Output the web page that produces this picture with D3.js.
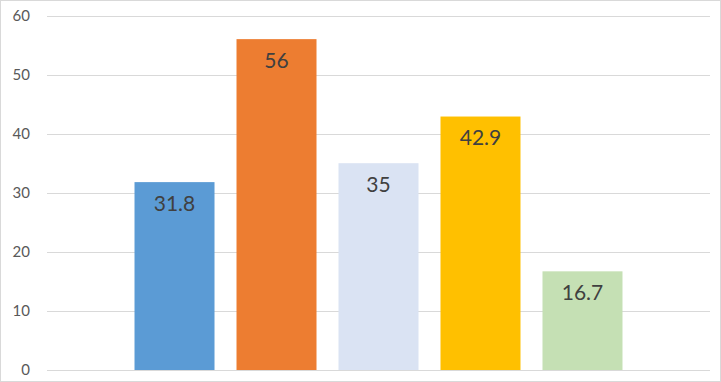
<!DOCTYPE html>
<html><head><meta charset="utf-8">
<script src="https://cdn.jsdelivr.net/npm/d3@7"></script>
<style>body{margin:0;background:#fff}svg{display:block}</style>
</head><body><svg id="c" width="721" height="382"></svg>
<script>
const series = ["S1","S2","S3","S4","S5"];
const values = [31.8, 56, 35, 42.9, 16.7];
const colors = ["#5B9BD5","#ED7D31","#DAE3F3","#FFC000","#C5E0B4"];
const yTicks = [0,10,20,30,40,50,60];

const svg = d3.select("#c");
const W = 721, H = 382;
const m = {left:47, right:11, top:15.5, bottom:12};
svg.append("rect").attr("x",0.5).attr("y",0.5).attr("width",W-1).attr("height",H-1)
  .attr("fill","#fff").attr("stroke","#d9d9d9");

const x = d3.scaleBand().domain(series).range([m.left, W-m.right])
  .paddingInner(22/102).paddingOuter(0.858);
const y = d3.scaleLinear().domain([0,60]).range([H-m.bottom, m.top]);

svg.append("g").selectAll("line").data(yTicks).join("line")
  .attr("x1",m.left).attr("x2",W-m.right)
  .attr("y1",d=>Math.round(y(d))+0.5).attr("y2",d=>Math.round(y(d))+0.5)
  .attr("stroke","#d9d9d9").attr("stroke-width",1);

const ax = svg.append("g").attr("transform",`translate(${m.left-17},0)`)
  .call(d3.axisLeft(y).tickValues(yTicks).tickSize(0).tickPadding(0));
ax.select(".domain").remove();
ax.selectAll("text").attr("font-family","Lato, 'Open Sans', sans-serif")
  .attr("font-size",15).attr("fill","#595959");

svg.append("g").selectAll("rect").data(values).join("rect")
  .attr("x",(d,i)=>x(series[i])).attr("width",x.bandwidth())
  .attr("y",d=>y(d)).attr("height",d=>y(0)-y(d))
  .attr("fill",(d,i)=>colors[i]);

svg.append("g").selectAll("text").data(values).join("text")
  .attr("x",(d,i)=>x(series[i])+x.bandwidth()/2)
  .attr("y",d=>y(d)+28.5)
  .attr("text-anchor","middle")
  .attr("font-family","Lato, 'Open Sans', sans-serif")
  .attr("font-size",21).attr("fill","#404040")
  .text(d=>d);
</script></body></html>
